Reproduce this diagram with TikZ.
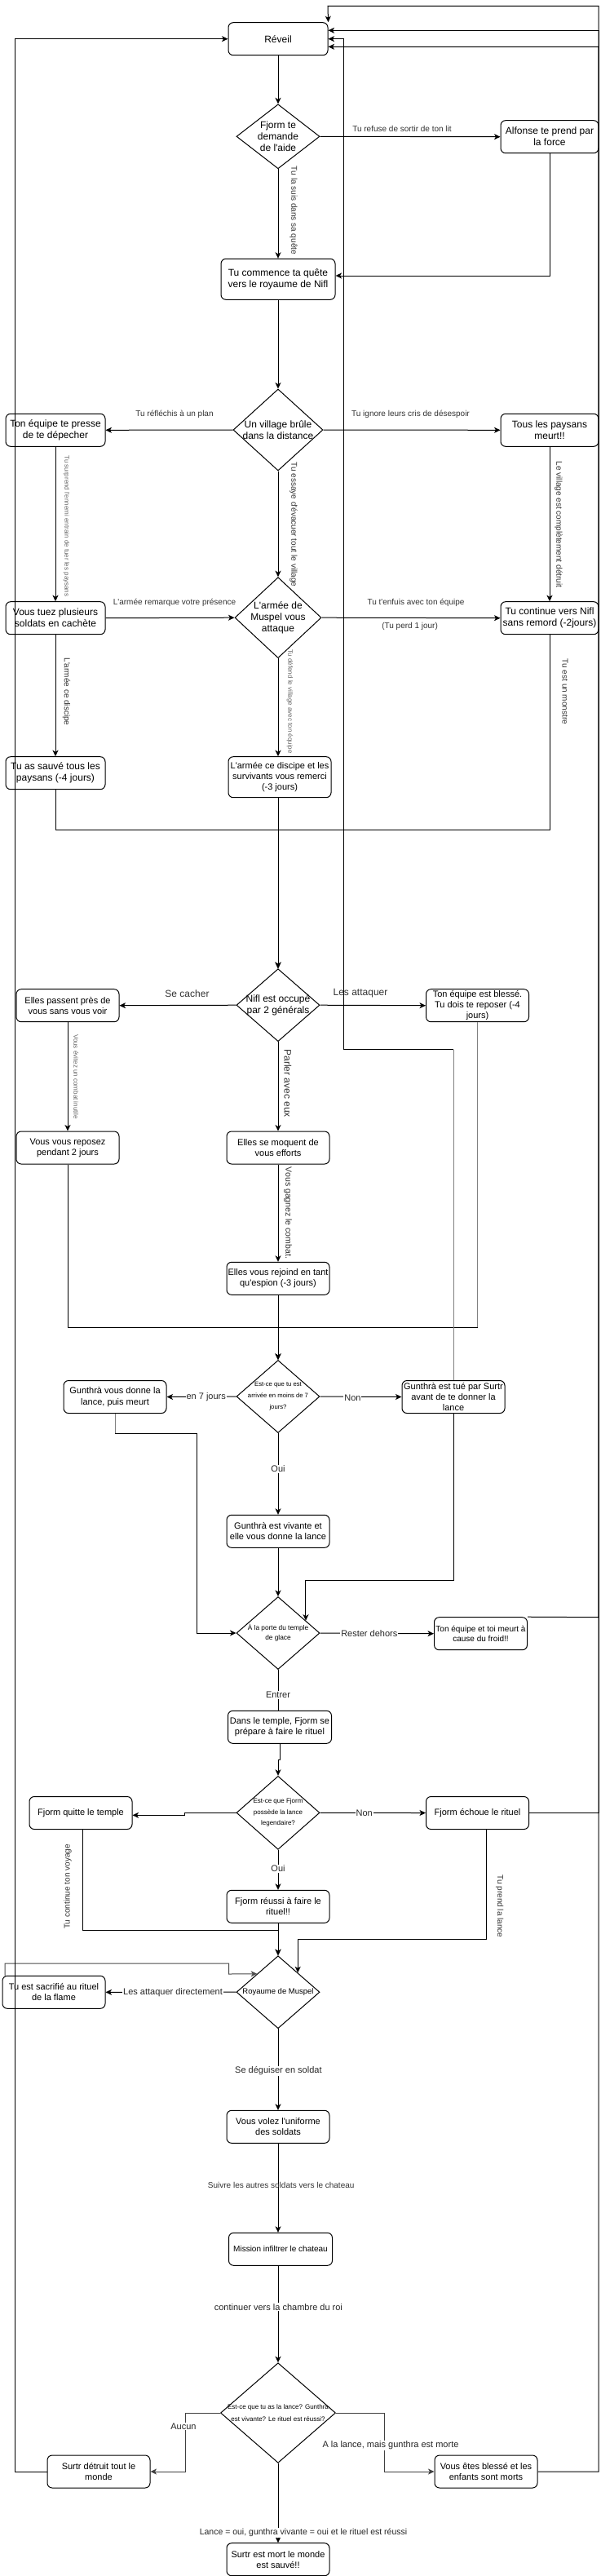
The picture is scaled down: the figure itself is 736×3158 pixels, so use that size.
\documentclass[tikz,border=0pt]{standalone}
\usepackage{fontspec}
\setmainfont{Liberation Sans}[Ligatures=TeXOff]
\usetikzlibrary{arrows.meta,shapes.geometric,calc}
\definecolor{lblc}{HTML}{333333}
\definecolor{smallc}{HTML}{666666}
\definecolor{grayln}{HTML}{808080}
\newcommand\Bx[7]{\node[bx,minimum width=#4pt,minimum height=#5pt] (#1) at (#2,#3) {};\node[tx,#6] (#1t) at (#1) {#7};}
\newcommand\Dm[7]{\node[dm,minimum width=#4pt,minimum height=#5pt] (#1) at (#2,#3) {};\node[tx,#6] (#1t) at (#1) {#7};}
\begin{document}
\begin{tikzpicture}[x=1pt,y=-1pt,
  bx/.style={draw=black,line width=1pt,rounded corners=6pt,fill=white,inner sep=0pt},
  dm/.style={draw=black,line width=1pt,diamond,fill=white,inner sep=0pt},
  tx/.style={align=center,inner sep=0pt,text=black},
  ln/.style={draw=black,line width=1pt},
  gl/.style={draw=grayln},
  ar/.style={ln,-{Stealth[length=7.5pt,width=7pt,inset=2pt]}},
  f12/.style={font=\fontsize{12}{14}\selectfont},
  f11/.style={font=\fontsize{11}{13.3}\selectfont},
  f10/.style={font=\fontsize{10}{12.5}\selectfont},
  lb/.style={font=\fontsize{10}{12}\selectfont,text=lblc,inner sep=1pt},
  sl/.style={font=\fontsize{8}{10}\selectfont,text=smallc,inner sep=1pt},
  wl/.style={font=\fontsize{11}{13}\selectfont,text=black!85,fill=white,inner sep=1pt},
]
\useasboundingbox (0,0) rectangle (736,3158);
\fill[white] (0,0) rectangle (736,3158);

% ---------- nodes ----------
\Bx{rev}{341}{47.7}{122}{40}{f12}{Réveil}
\Dm{d1}{341}{167.3}{102}{79}{f12}{Fjorm te\\demande\\de l'aide}
\Bx{alf}{674}{167.7}{120}{40}{f12}{Alfonse te prend par\\la force}
\Bx{quest}{341}{342.3}{140}{50}{f12}{Tu commence ta quête\\vers le royaume de Nifl}
\Dm{d2}{341}{527}{110}{100}{f12}{Un village brûle\\dans la distance}
\Bx{presse}{68}{527.3}{122}{40}{f12}{Ton équipe te presse\\de te dépecher}
\Bx{pays}{674}{527.3}{120}{40}{f12}{Tous les paysans\\meurt!!}
\Dm{d3}{341}{757.2}{106}{99}{f12}{L'armée de\\Muspel vous\\attaque}
\Bx{tuez}{68}{757.7}{122}{40}{f12}{Vous tuez plusieurs\\soldats en cachète}
\Bx{cont}{674}{757.7}{120}{40}{f12}{Tu continue vers Nifl\\sans remord (-2jours)}
\Bx{sauve}{68}{947.7}{122}{40}{f12}{Tu as sauvé tous les\\paysans (-4 jours)}
\Bx{disc}{343}{952.7}{126}{50}{f11}{L'armée ce discipe et les\\survivants vous remerci\\(-3 jours)}
\Dm{d4}{341}{1232.2}{102}{89}{f12}{Nifl est occupé\\par 2 générals}
\Bx{elles}{83}{1232.7}{126}{40}{f11}{Elles passent près de\\vous sans vous voir}
\Bx{bless}{585.5}{1232.7}{126}{40}{f11}{Ton équipe est blessé.\\Tu dois te reposer (-4\\jours)}
\Bx{repos}{83}{1407}{126}{40}{f11}{Vous vous reposez\\pendant 2 jours}
\Bx{moq}{341}{1407}{126}{40}{f11}{Elles se moquent de\\vous efforts}
\Bx{rej}{341}{1567.3}{126}{40}{f11}{Elles vous rejoind en tant\\qu'espion (-3 jours)}
\Dm{d5}{341}{1712}{102}{89}{font=\fontsize{7.7}{14}\selectfont}{Est-ce que tu est\\arrivée en moins de 7\\jours?}
\Bx{gdon}{141}{1712.5}{126}{40}{f11}{Gunthrà vous donne la\\lance, puis meurt}
\Bx{gtue}{556}{1712.5}{126}{40}{f11}{Gunthrà est tué par Surtr\\avant de te donner la\\lance}
\Bx{gviv}{341}{1877.3}{126}{40}{f11}{Gunthrà est vivante et\\elle vous donne la lance}
\Dm{d6}{341}{2002}{102}{89}{font=\fontsize{8.3}{12.3}\selectfont}{À la porte du temple\\de glace}
\Bx{froid}{589.5}{2002.7}{114}{40}{f10}{Ton équipe et toi meurt à\\cause du froid!!}
\Bx{temple}{343}{2117.3}{127}{40}{f11}{Dans le temple, Fjorm se\\prépare à faire le rituel}
\Dm{d7}{341}{2222.3}{102}{90}{font=\fontsize{8}{13.5}\selectfont}{Est-ce que Fjorm\\possède la lance\\legendaire?}
\Bx{quitte}{99}{2222.5}{126}{40}{f11}{Fjorm quitte le temple}
\Bx{echoue}{585.5}{2222.5}{126}{40}{f11}{Fjorm échoue le rituel}
\Bx{reussi}{341}{2337.3}{126}{40}{f11}{Fjorm réussi à faire le\\rituel!!}
\Dm{d8}{341}{2442.2}{102}{89}{font=\fontsize{9.5}{11}\selectfont}{Royaume de Muspel}
\Bx{sacr}{66}{2442.3}{126}{40}{f11}{Tu est sacrifié au rituel\\de la flame}
\Bx{volez}{341}{2607.3}{126}{40}{f11}{Vous volez l'uniforme\\des soldats}
\Bx{miss}{344}{2757.3}{127}{40}{f10}{Mission infiltrer le chateau}
\Dm{d9}{341}{2958}{141}{122.6}{font=\fontsize{8}{15}\selectfont}{Est-ce que tu as la lance? Gunthra\\est vivante? Le rituel est réussi?}
\Bx{surtr}{121}{3030}{126}{40}{f11}{Surtr détruit tout le\\monde}
\Bx{bles2}{596}{3030}{126}{40}{f11}{Vous êtes blessé et les\\enfants sont morts}
\Bx{fin}{341}{3137.7}{126}{40}{f11}{Surtr est mort le monde\\est sauvé!!}

% ---------- helper coordinates ----------
\coordinate (j1) at (341,1017);
\coordinate (j2) at (341,1627.3);
\coordinate (d6ne) at ($(d6.north)!0.66!(d6.east)$);
\coordinate (d8ne) at ($(d8.north)!0.47!(d8.east)$);
\coordinate (d8nw) at ($(d8.north)!0.5!(d8.west)$);

% ---------- connectors ----------
\draw[ar] (rev.south) -- (d1.north);
\draw[ar] (d1.east) -- (alf.west);
\draw[ar] (d1.south) -- (quest.north);
\draw[ar] (alf.south) |- ([yshift=4.3pt]quest.east);
\draw[ar] (quest.south) -- (d2.north);
\draw[ar] (d2.west) -- (presse.east);
\draw[ar] (d2.east) -- (pays.west);
\draw[ar] (d2.south) -- (d3.north);
\draw[ar] (presse.south) -- (tuez.north);
\draw[ar] (pays.south) -- (cont.north);
\draw[ar] (tuez.east) -- (d3.west);
\draw[ar] (d3.east) -- (cont.west);
\draw[ar] (tuez.south) -- (sauve.north);
\draw[ar] (d3.south) -- (d3.south |- disc.north);
\draw[ar] (sauve.south) |- (j1) -- (d4.north);
\draw[ar] (cont.south) |- (j1) -- (d4.north);
\draw[ar] (disc.south -| d4.north) -- (d4.north);
\draw[ar] (d4.west) -- (elles.east);
\draw[ar] (d4.east) -- (bless.west);
\draw[ar] (elles.south) -- (repos.north);
\draw[ar] (d4.south) -- (moq.north);
\draw[ar] (moq.south) -- (rej.north);
\draw[ar] (repos.south) |- (j2) -- (d5.north);
\draw[ln,gl] (bless.south) -- (bless.south |- j2);
\draw[ar] (bless.south |- j2) -- (j2) -- (d5.north);
\draw[ar] (rej.south) -- (d5.north);
\draw[ar] (d5.west) -- (gdon.east);
\draw[ar] (d5.east) -- (gtue.west);
\draw[ar] (d5.south) -- (gviv.north);
\draw[ln,gl] (gtue.north) -- (556,1286.7);
\draw[ar] (556,1286.7) -- (421,1286.7) -- (421,47.7) -- (rev.east);
\draw[ln,gl] (gdon.south) -- (141,1757.3);
\draw[ar] (141,1757.3) -- (241,1757.3) |- (d6.west);
\draw[ar] (gviv.south) -- (d6.north);
\draw[ar] (gtue.south) |- ($(d6ne)+(0,-49.5)$) -- (d6ne);
\draw[ar] (d6.east) -- (froid.west);
\draw[ln] (d6.south) -- (d6.south |- temple.north);
\draw[ar] (temple.south) -- ++(0,19.4) -| (d7.north);
\draw[ar] (d7.west) -- (226,2222.3) -- (226,2225.3) -- ([yshift=-2.8pt]quitte.east);
\draw[ar] (d7.east) -- (echoue.west);
\draw[ar] (d7.south) -- (reussi.north);
\draw[ar] (reussi.south) -- (d8.north);
\draw[ar] ([xshift=2.5pt]quitte.south) |- (341,2366.7) -- (d8.north);
\draw[ar] ([xshift=11pt]echoue.south) |- ($(d8ne)+(0,-41)$) -- (d8ne);
\draw[ar] (echoue.east) -- (734,2222.5) -- (734,37.3) -- ([yshift=10.4pt]rev.east);
\draw[ar] (froid.north east) -- (734,1982.7) -- (734,57.3) -- ([yshift=-9.6pt]rev.east);
\draw[ar] (bles2.east) -- (734,3030) -- (734,7.3) -- (402,7.3) -- (rev.north east);
\draw[ar] (d8.west) -- (sacr.east);
\draw[ar,draw=black!70] ([xshift=3.7pt]sacr.north west) -- ++(0,-14.6) -| (280.7,2420) -- (d8nw);
\draw[ar] (d8.south) -- (volez.north);
\draw[ar] (volez.south) -- (volez.south |- miss.north);
\draw[ar] (miss.south -| d9.north) -- (d9.north);
\draw[ar,draw=black!75] (d9.west) -- (227.6,2958) -- (227.6,3030) -- (surtr.east);
\draw[ar,draw=black!75] (d9.east) -- (471.8,2958) -- (471.8,3030) -- (bles2.west);
\draw[ar] (d9.south) -- (fin.north);
\draw[ar] (surtr.west) -- (18,3030) -- (18,47.7) -- (rev.west);

% ---------- labels ----------
\node[lb] (l1) at (493,158) {Tu refuse de sortir de ton lit};
\node[lb,rotate=-90] (l2) at (360,258) {Tu la suis dans sa quête};
\node[lb] (l3) at (214,508) {Tu réfléchis à un plan};
\node[lb] (l4) at (503.5,508) {Tu ignore leurs cris de désespoir};
\node[lb,rotate=-90] (l5) at (360,643) {Tu essaye d'évacuer tout le village};
\node[sl,rotate=-90] (l6) at (81.5,645) {Tu surprend l'ennemi entrain de tuer les paysans};
\node[lb,rotate=-90] (l7) at (685,643) {Le village est complètement détruit};
\node[lb] (l8) at (214,739) {L'armée remarque votre présence};
\node[lb] (l9) at (510,739) {Tu t'enfuis avec ton équipe};
\node[lb] (l10) at (502.6,768) {(Tu perd 1 jour)};
\node[lb,rotate=-90] (l11) at (81.5,848) {L'armée ce discipe};
\node[sl,rotate=-90] (l12) at (355.6,860) {Tu défend le village avec ton équipe};
\node[lb,rotate=-90] (l13) at (693,848) {Tu est un monstre};
\node[lb,f12] (l14) at (229.5,1217.7) {Se cacher};
\node[lb,f12] (l15) at (442,1217.7) {Les attaquer};
\node[sl,rotate=-90] (l16) at (93.4,1320) {Vous évitez un combat inutile};
\node[lb,f12,rotate=-90] (l17) at (353,1328) {Parler avec eux};
\node[lb,font=\fontsize{10.5}{12}\selectfont,rotate=-90] (l18) at (353,1487) {Vous gagnez le combat.};
\node[wl] (l19) at (252.7,1713) {en 7 jours};
\node[wl] (l20) at (432.4,1714) {Non};
\node[wl] (l21) at (341,1801) {Oui};
\node[wl] (l22) at (452.8,2002.3) {Rester dehors};
\node[wl] (l23) at (341,2078) {Entrer};
\node[wl] (l24) at (446.7,2223) {Non};
\node[wl] (l25) at (341,2290.7) {Oui};
\node[lb,rotate=90] (l26) at (83,2313) {Tu continue ton voyage};
\node[lb,rotate=-90] (l27) at (612.6,2337) {Tu prend la lance};
\node[wl] (l28) at (212,2442.7) {Les attaquer directement};
\node[wl] (l29) at (341.4,2539) {Se déguiser en soldat};
\node[lb] (l30) at (344.7,2679) {Suivre les autres soldats vers le chateau};
\node[wl] (l31) at (341.4,2828.3) {continuer vers la chambre du roi};
\node[wl] (l32) at (225,2974.3) {Aucun};
\node[wl] (l33) at (479,2997.7) {A la lance, mais gunthra est morte};
\node[wl,font=\fontsize{10.5}{12}\selectfont] (l34) at (372,3105) {Lance = oui, gunthra vivante = oui et le rituel est réussi};
\end{tikzpicture}
\end{document}
